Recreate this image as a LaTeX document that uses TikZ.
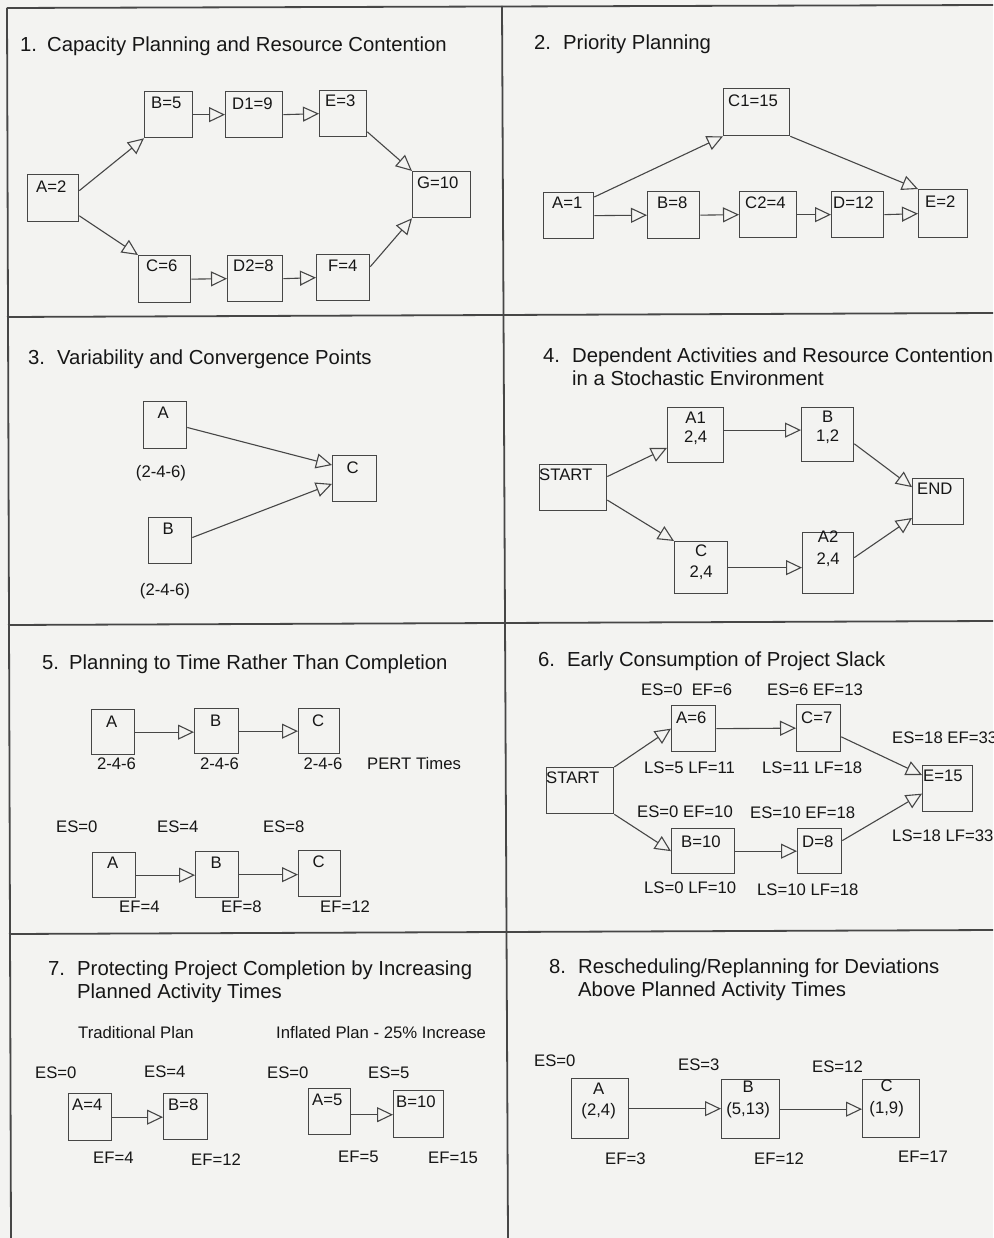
\documentclass[tikz,border=0pt]{standalone}
\usepackage{fontspec}
\setmainfont{Liberation Sans}
\usetikzlibrary{arrows.meta}
\definecolor{bg}{RGB}{243,243,241}
\definecolor{ln}{RGB}{70,70,70}
\definecolor{tx}{RGB}{22,22,22}
\newcommand\ttlfont{\fontsize{20.3pt}{23pt}\selectfont}
\newcommand\labfont{\fontsize{16.7pt}{19pt}\selectfont}
\newcommand\labfontb{\fontsize{16.7pt}{21pt}\selectfont}
\newcommand\labfontc{\fontsize{16.7pt}{22pt}\selectfont}
\begin{document}
\begin{tikzpicture}[x=1pt,y=-1pt,
  frame/.style={draw=ln,line width=1.8pt},
  box/.style={draw=ln,line width=1.3pt,inner sep=0pt,anchor=north west},
  conn/.style={draw=ln,line width=1.1pt,-{Triangle[open,length=16pt,width=15pt]}},
  lt/.style={anchor=base west,inner sep=0pt,font=\labfont,text=tx,xshift=6pt,yshift=-18pt},
  lb/.style={anchor=base,inner sep=0pt,font=\labfont,text=tx},
  lc/.style={anchor=north,inner sep=0pt,font=\labfont,text=tx,align=center},
  lbl/.style={anchor=base west,inner sep=0pt,font=\labfont,text=tx},
  lblc/.style={anchor=base,inner sep=0pt,font=\labfont,text=tx},
  num/.style={anchor=base west,inner sep=0pt,font=\ttlfont,text=tx},
  ttl/.style={anchor=north west,inner sep=0pt,font=\ttlfont,text=tx,align=left}]
\fill[bg] (0,0) rectangle (993,1238);
\useasboundingbox (0,0) rectangle (993,1238);
% frame
\draw[frame] (7,8) -- (993,5);
\draw[frame] (7,8) -- (11,1238);
\draw[frame] (502,6) -- (508,1238);
\draw[frame] (7,317) -- (993,313);
\draw[frame] (8,625) -- (993,621);
\draw[frame] (9,934) -- (993,930);

% ---------- panel 1
\node[num] (p1n) at (20,52) {1.};
\node[num] (p1t) at (47,52) {Capacity Planning and Resource Contention};
\node[box,minimum width=51pt,minimum height=47pt,label={[lt,xshift=3pt,yshift=-1pt]north west:A=2}] (p1a) at (27,174) {};
\node[box,minimum width=48pt,minimum height=46pt,label={[lt,xshift=1pt]north west:B=5}] (p1b) at (144,91) {};
\node[box,minimum width=57pt,minimum height=46pt,label={[lt,xshift=1pt,yshift=-1pt]north west:D1=9}] (p1d1) at (225,91) {};
\node[box,minimum width=47pt,minimum height=46pt,label={[lt,yshift=1pt]north west:E=3}] (p1e) at (319,90) {};
\node[box,minimum width=58pt,minimum height=46pt,label={[lt,xshift=-1pt]north west:G=10}] (p1g) at (412,171) {};
\node[box,minimum width=52pt,minimum height=47pt,label={[lt,xshift=2pt,yshift=1pt]north west:C=6}] (p1c) at (138,255) {};
\node[box,minimum width=55pt,minimum height=46pt,label={[lt,yshift=1pt]north west:D2=8}] (p1d2) at (227,255) {};
\node[box,minimum width=53pt,minimum height=46pt,label={[lt,xshift=6pt]north west:F=4}] (p1f) at (316,254) {};
\draw[conn] (p1a.16) -- (p1b.south west);
\draw[conn] (p1a.-34) -- (p1c.north west);
\draw[conn] (p1b.east) -- (p1d1.west);
\draw[conn] (p1d1.east) -- (p1e.west);
\draw[conn] (p1e.-37) -- (p1g.north west);
\draw[conn] (p1f.22) -- (p1g.south west);
\draw[conn] (p1c.east) -- (p1d2.west);
\draw[conn] (p1d2.east) -- (p1f.west);

% ---------- panel 2
\node[num] (p2n) at (534,50) {2.};
\node[num] (p2t) at (563,50) {Priority Planning};
\node[box,minimum width=50pt,minimum height=46pt,label={[lt,xshift=3pt,yshift=1pt]north west:A=1}] (p2a) at (543,192) {};
\node[box,minimum width=52pt,minimum height=47pt,label={[lt,xshift=4pt]north west:B=8}] (p2b) at (647,191) {};
\node[box,minimum width=66pt,minimum height=47pt,label={[lt,xshift=-1pt,yshift=-1pt]north west:C1=15}] (p2c1) at (723,88) {};
\node[box,minimum width=57pt,minimum height=46pt,label={[lt]north west:C2=4}] (p2c2) at (739,191) {};
\node[box,minimum width=52pt,minimum height=46pt,label={[lt,xshift=-4pt]north west:D=12}] (p2d) at (831,191) {};
\node[box,minimum width=49pt,minimum height=48pt,label={[lt,xshift=1pt,yshift=-1pt]north west:E=2}] (p2e) at (918,189) {};
\draw[conn] (p2a.36) -- (p2c1.south west);
\draw[conn] (p2c1.south east) -- (p2e.north west);
\draw[conn] (p2a.east) -- (p2b.west);
\draw[conn] (p2b.east) -- (p2c2.west);
\draw[conn] (p2c2.east) -- (p2d.west);
\draw[conn] (p2d.east) -- (p2e.west);

% ---------- panel 3
\node[num] (p3n) at (28,364) {3.};
\node[num] (p3t) at (57,364) {Variability and Convergence Points};
\node[box,minimum width=43pt,minimum height=47pt,label={[lb,xshift=-2pt,yshift=-17pt]north:A}] (p3a) at (143,401) {};
\node[box,minimum width=43pt,minimum height=46pt,label={[lb,xshift=-2pt,yshift=-17pt]north:B}] (p3b) at (148,517) {};
\node[box,minimum width=44pt,minimum height=46pt,label={[lb,xshift=-2pt,yshift=-18pt]north:C}] (p3c) at (332,455) {};
\node[lblc] (p3ta) at (161,477) {(2-4-6)};
\node[lblc] (p3tb) at (165,595) {(2-4-6)};
\draw[conn] (p3a.-6) -- (p3c.149);
\draw[conn] (p3b.8) -- (p3c.193);

% ---------- panel 4
\node[num] (p4n) at (543,362) {4.};
\node[ttl] (p4t) at (572,347.5) {Dependent Activities and Resource Contention\\in a Stochastic Environment};
\node[box,minimum width=67pt,minimum height=46pt,label={[lt,xshift=-6pt,yshift=2pt]north west:START}] (p4s) at (539,464) {};
\node[box,minimum width=56pt,minimum height=55pt,label={[lc,yshift=-5pt]north:{A1\\2,4}}] (p4a1) at (667,407) {};
\node[box,minimum width=52pt,minimum height=54pt,label={[lc,yshift=-4pt]north:{B\\1,2}}] (p4b) at (801,407) {};
\node[box,minimum width=51pt,minimum height=46pt,label={[lt,xshift=-1pt,yshift=2pt]north west:END}] (p4e) at (912,478) {};
\node[box,minimum width=53pt,minimum height=52pt,label={[lc,font=\labfontb,yshift=-4pt]north:{C\\2,4}}] (p4c) at (674,541) {};
\node[box,minimum width=51pt,minimum height=61pt,label={[lc,font=\labfontc,yshift=1pt]north:{A2\\2,4}}] (p4a2) at (802,532) {};
\draw[conn] (p4s.18) -- (p4a1.204);
\draw[conn] (p4s.-20) -- (p4c.north west);
\draw[conn] (p4a1.10) -- (p4a1.10 -| p4b.west);
\draw[conn] (p4b.-19) -- (p4e.151);
\draw[conn] (p4c.east) -- (p4c.east -| p4a2.west);
\draw[conn] (p4a2.12) -- (p4e.212);

% ---------- panel 5
\node[num] (p5n) at (42,669) {5.};
\node[num] (p5t) at (69,669) {Planning to Time Rather Than Completion};
\node[box,minimum width=43pt,minimum height=45pt,label={[lb,xshift=-1.5pt,yshift=-18pt]north:A}] (p5a) at (91,709) {};
\node[box,minimum width=44pt,minimum height=45pt,label={[lb,xshift=-1pt,yshift=-18pt]north:B}] (p5b) at (194,708) {};
\node[box,minimum width=41pt,minimum height=45pt,label={[lb,xshift=-1pt,yshift=-18pt]north:C}] (p5c) at (298,708) {};
\draw[conn] (p5a.east) -- (p5a.east -| p5b.west);
\draw[conn] (p5b.east) -- (p5b.east -| p5c.west);
\node[lblc] (p5la) at (116.5,769) {2-4-6};
\node[lblc] (p5lb) at (219.5,769) {2-4-6};
\node[lblc] (p5lc) at (323,769) {2-4-6};
\node[lbl] (p5pert) at (367,769) {PERT Times};
\node[lbl] (p5es0) at (56,832) {ES=0};
\node[lbl] (p5es4) at (157,832) {ES=4};
\node[lbl] (p5es8) at (263,832) {ES=8};
\node[box,minimum width=43pt,minimum height=45pt,label={[lb,xshift=-1.5pt,yshift=-16pt]north:A}] (p5a2) at (92,852) {};
\node[box,minimum width=43pt,minimum height=46pt,label={[lb,xshift=-1pt,yshift=-17pt]north:B}] (p5b2) at (195,851) {};
\node[box,minimum width=42pt,minimum height=46pt,label={[lb,xshift=-1pt,yshift=-17pt]north:C}] (p5c2) at (298,850) {};
\draw[conn] (p5a2.east) -- (p5a2.east -| p5b2.west);
\draw[conn] (p5b2.east) -- (p5b2.east -| p5c2.west);
\node[lbl] (p5ef4) at (119,912) {EF=4};
\node[lbl] (p5ef8) at (221,912) {EF=8};
\node[lbl] (p5ef12) at (320,912) {EF=12};

% ---------- panel 6
\node[num] (p6n) at (538,666) {6.};
\node[num] (p6t) at (567,666) {Early Consumption of Project Slack};
\node[box,minimum width=67pt,minimum height=46pt,label={[lt,xshift=-6pt,yshift=2pt]north west:START}] (p6s) at (546,767) {};
\node[box,minimum width=44pt,minimum height=46pt,label={[lt,xshift=-1pt]north west:A=6}] (p6a) at (671,705) {};
\node[box,minimum width=44pt,minimum height=47pt,label={[lt,xshift=-1pt,yshift=-1pt]north west:C=7}] (p6c) at (796,704) {};
\node[box,minimum width=50pt,minimum height=46pt,label={[lt,xshift=-5pt,yshift=2pt]north west:E=15}] (p6e) at (922,765) {};
\node[box,minimum width=63pt,minimum height=45pt,label={[lt,xshift=4pt,yshift=-1pt]north west:B=10}] (p6b) at (671,828) {};
\node[box,minimum width=44pt,minimum height=45pt,label={[lt,xshift=-1pt,yshift=-1pt]north west:D=8}] (p6d) at (797,828) {};
\draw[conn] (p6s.north east) -- (p6a.west);
\draw[conn] (p6s.south east) -- (p6b.west);
\draw[conn] (p6a.east) -- (p6c.west);
\draw[conn] (p6c.-21) -- (p6e.152);
\draw[conn] (p6b.east) -- (p6b.east -| p6d.west);
\draw[conn] (p6d.25) -- (p6e.191);
\node[lbl] (p6l1) at (641,695) {ES=0\ \ EF=6};
\node[lbl] (p6l2) at (767,695) {ES=6 EF=13};
\node[lbl] (p6l3) at (644,773) {LS=5 LF=11};
\node[lbl] (p6l4) at (762,773) {LS=11 LF=18};
\node[lbl] (p6l5) at (892,743) {ES=18 EF=33};
\node[lbl] (p6l6) at (637,817) {ES=0 EF=10};
\node[lbl] (p6l7) at (750,818) {ES=10 EF=18};
\node[lbl] (p6l8) at (892,841) {LS=18 LF=33};
\node[lbl] (p6l9) at (644,893) {LS=0 LF=10};
\node[lbl] (p6l10) at (757,895) {LS=10 LF=18};

% ---------- panel 7
\node[num] (p7n) at (48,975) {7.};
\node[ttl] (p7t) at (77,960.5) {Protecting Project Completion by Increasing\\Planned Activity Times};
\node[lbl] (p7trad) at (78,1038) {Traditional Plan};
\node[lbl] (p7infl) at (276,1038) {Inflated Plan - 25\% Increase};
\node[lbl] (p7es0) at (35,1078) {ES=0};
\node[lbl] (p7es4) at (144,1077) {ES=4};
\node[lbl] (p7es0b) at (267,1078) {ES=0};
\node[lbl] (p7es5) at (368,1078) {ES=5};
\node[box,minimum width=43pt,minimum height=47pt,label={[lt,xshift=-2pt,yshift=1pt]north west:A=4}] (p7a) at (68,1093) {};
\node[box,minimum width=44pt,minimum height=46pt,label={[lt,xshift=-1pt,yshift=1pt]north west:B=8}] (p7b) at (163,1093) {};
\node[box,minimum width=42pt,minimum height=46pt,label={[lt,xshift=-2pt,yshift=1pt]north west:A=5}] (p7a2) at (308,1088) {};
\node[box,minimum width=50pt,minimum height=47pt,label={[lt,xshift=-3pt,yshift=1pt]north west:B=10}] (p7b2) at (393,1090) {};
\draw[conn] (p7a.east) -- (p7a.east -| p7b.west);
\draw[conn] (p7a2.-8) -- (p7a2.-8 -| p7b2.west);
\node[lbl] (p7ef4) at (93,1163) {EF=4};
\node[lbl] (p7ef12) at (191,1165) {EF=12};
\node[lbl] (p7ef5) at (338,1162) {EF=5};
\node[lbl] (p7ef15) at (428,1163) {EF=15};

% ---------- panel 8
\node[num] (p8n) at (549,973) {8.};
\node[ttl] (p8t) at (578,958.5) {Rescheduling/Replanning for Deviations\\Above Planned Activity Times};
\node[lbl] (p8es0) at (534,1066) {ES=0};
\node[lbl] (p8es3) at (678,1070) {ES=3};
\node[lbl] (p8es12) at (812,1072) {ES=12};
\node[box,minimum width=57pt,minimum height=60pt,label={[lc,font=\labfontb,xshift=-1.5pt,yshift=-5pt]north:{A\\(2,4)}}] (p8a) at (571,1078) {};
\node[box,minimum width=58pt,minimum height=59pt,label={[lc,font=\labfontc,xshift=-2.5pt,yshift=-2pt]north:{B\\(5,13)}}] (p8b) at (721,1079) {};
\node[box,minimum width=57pt,minimum height=58pt,label={[lc,font=\labfontc,xshift=-4.5pt,yshift=-1pt]north:{C\\(1,9)}}] (p8c) at (862,1079) {};
\draw[conn] (p8a.east) -- (p8a.east -| p8b.west);
\draw[conn] (p8b.east) -- (p8b.east -| p8c.west);
\node[lbl] (p8ef3) at (605,1164) {EF=3};
\node[lbl] (p8ef12) at (754,1164) {EF=12};
\node[lbl] (p8ef17) at (898,1162) {EF=17};
\end{tikzpicture}
\end{document}
